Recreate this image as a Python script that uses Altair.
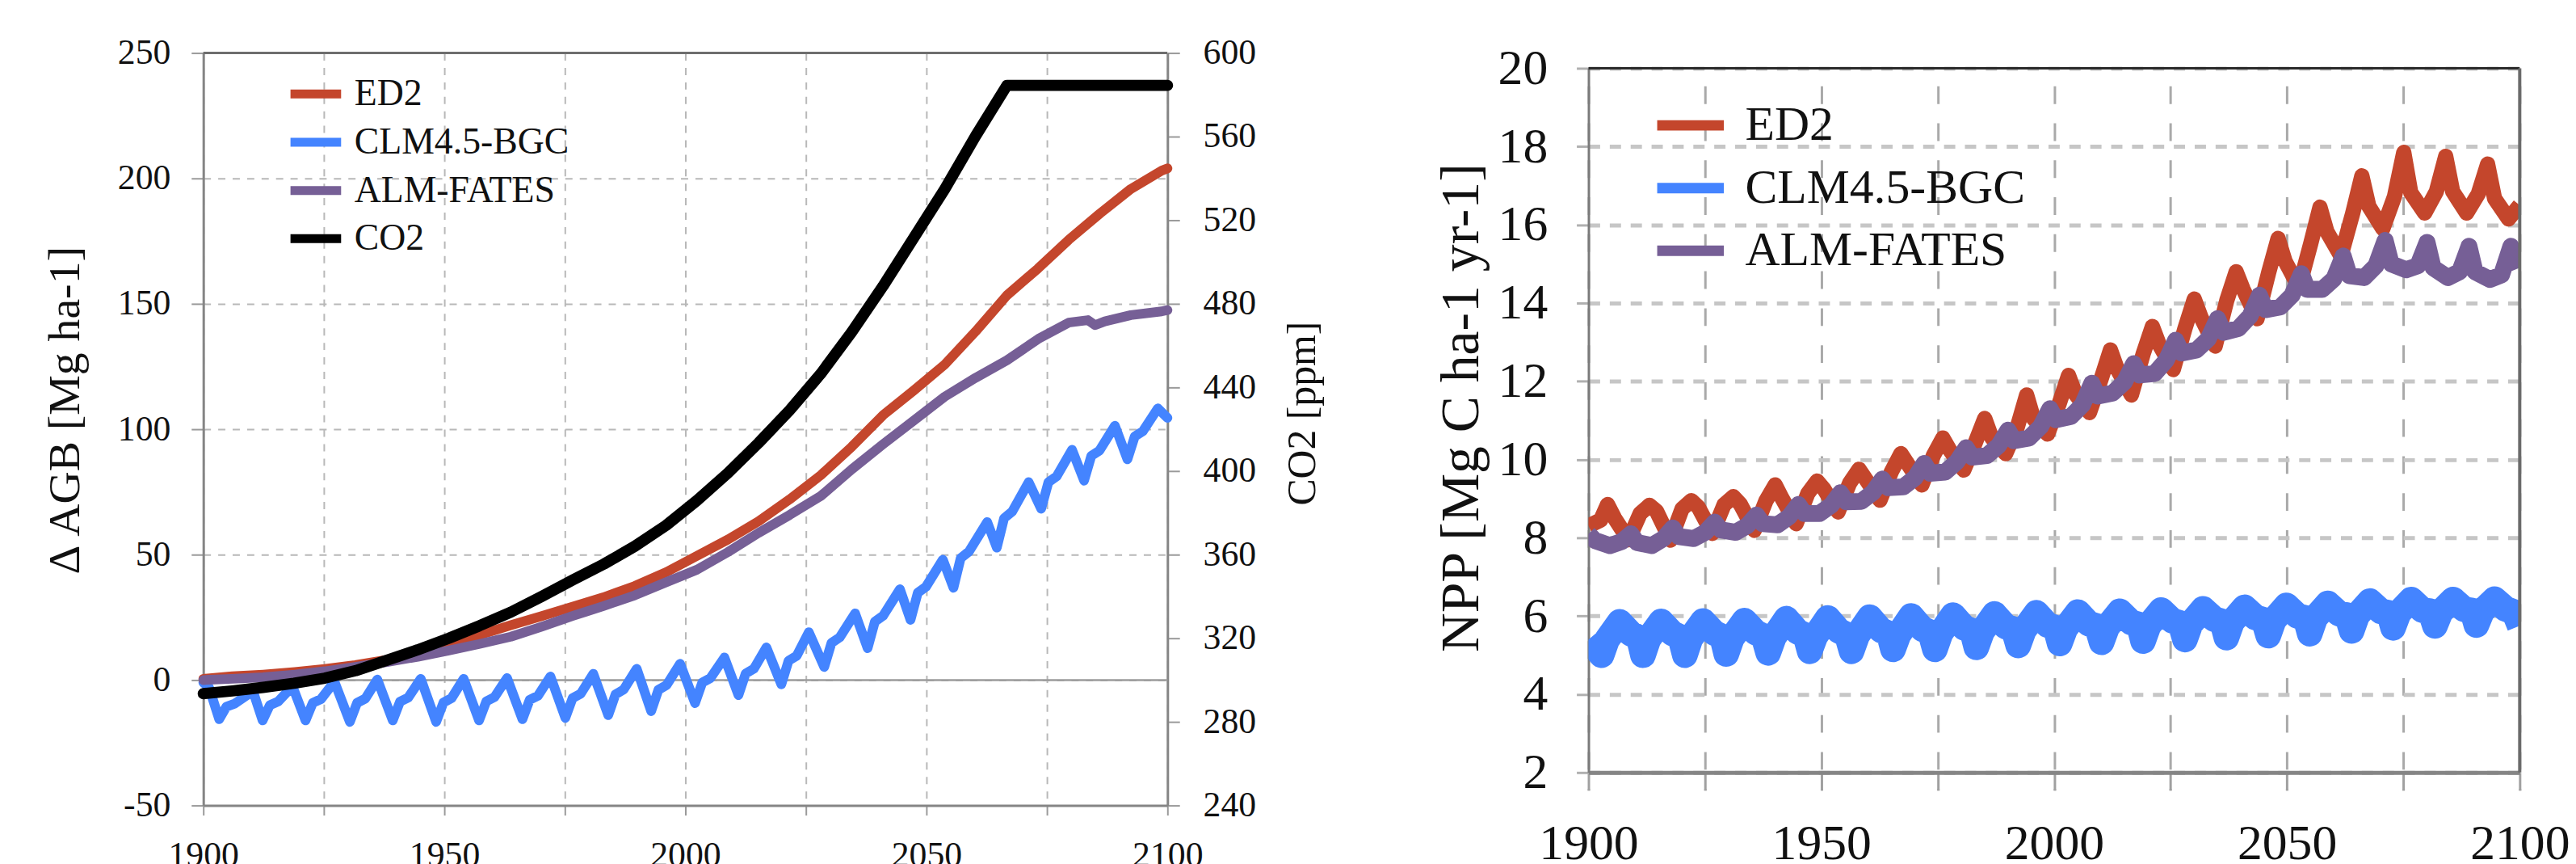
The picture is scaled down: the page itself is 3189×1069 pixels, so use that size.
import altair as alt
import pandas as pd

FONT = "Liberation Serif"

# ---------------- series names / colours ----------------
left_series = ["ED2", "CLM4.5-BGC", "ALM-FATES", "CO2"]
left_colors = ["#C4462C", "#4484FF", "#765F96", "#000000"]
right_series = ["ED2", "CLM4.5-BGC", "ALM-FATES"]
right_colors = ["#C4462C", "#4484FF", "#765F96"]

# ---------------- left panel: delta AGB (Mg ha-1) ----------------
ed2_agb_year = [1900, 1906, 1912.4, 1919, 1925.2, 1931.5, 1938.1, 1944.5, 1950.9, 1957.3,
                1963.8, 1970.2, 1976.7, 1983, 1989.5, 1996, 2002.4, 2008.8, 2015.2, 2021.6,
                2028.1, 2034.5, 2041, 2047.4, 2053.8, 2060.2, 2066.7, 2073.1, 2079.5, 2086,
                2092.4, 2098.8, 2100]
ed2_agb_val = [0.5, 1.5, 2.2, 3.2, 4.4, 6.0, 8.1, 11.0, 14.0, 18.0,
               21.9, 25.5, 29.3, 33.0, 37.5, 43.0, 49.5, 56.0, 63.3, 72.0,
               81.7, 93.0, 105.6, 115.5, 125.8, 139.0, 153.4, 164.0, 175.5, 186.0,
               195.8, 203.1, 204.0]

alm_agb_year = [1900, 1906, 1912.4, 1919, 1925.2, 1931.5, 1938.1, 1944.5, 1950.9, 1957.3,
                1963.8, 1970.2, 1976.7, 1983, 1989.5, 1996, 2002.4, 2008.8, 2015.2, 2021.6,
                2028.1, 2034.5, 2041, 2047.4, 2053.8, 2060.2, 2066.7, 2073.2, 2079.5, 2083.5,
                2085, 2087, 2092.4, 2098.8, 2100]
alm_agb_val = [0.0, 0.5, 1.1, 2.2, 3.5, 5.2, 7.2, 9.3, 11.8, 14.4,
               17.3, 21.3, 25.6, 29.5, 33.8, 39.0, 44.0, 51.0, 58.7, 65.8,
               73.4, 84.0, 94.0, 103.5, 113.0, 120.5, 127.5, 136.0, 142.5, 143.5,
               141.5, 143.0, 145.5, 147.0, 147.5]

clm_agb_year = [1900, 1901.2, 1903.3, 1904.8, 1906.5, 1910.3, 1912.3, 1913.8, 1915.5, 1918.5,
                1921.2, 1922.7, 1924.4, 1927.2, 1930.4, 1931.9, 1933.6, 1936.1, 1939.3, 1940.8,
                1942.5, 1945.1, 1948.3, 1949.8, 1951.5, 1954.0, 1957.2, 1958.7, 1960.4, 1963.0,
                1966.2, 1967.7, 1969.4, 1972.0, 1975.1, 1976.6, 1978.3, 1980.9, 1984.0, 1985.5,
                1987.2, 1989.9, 1992.9, 1994.4, 1996.1, 1998.9, 2002.0, 2003.5, 2005.2, 2008.1,
                2011.0, 2012.5, 2014.2, 2016.8, 2019.9, 2021.4, 2023.1, 2025.6, 2028.8, 2030.3,
                2032.0, 2035.2, 2037.8, 2039.3, 2041.0, 2044.5, 2046.7, 2048.2, 2049.9, 2053.4,
                2055.6, 2057.1, 2058.8, 2062.6, 2064.6, 2066.1, 2067.8, 2071.2, 2073.8, 2075.3,
                2077.0, 2080.2, 2082.7, 2084.2, 2085.9, 2089.1, 2091.7, 2093.2, 2094.9, 2098.0,
                2100.0]
clm_agb_val = [-1.0, -3.0, -15.6, -10.6, -9.4, -4.4, -16.1, -10.0, -8.6, -2.5,
               -16.1, -9.1, -7.6, -0.6, -16.7, -9.1, -7.4, 0.2, -16.1, -8.6,
               -7.0, 0.5, -16.7, -9.0, -7.2, 0.5, -16.1, -8.5, -6.8, 0.8,
               -15.6, -7.9, -6.3, 1.4, -15.1, -7.2, -5.4, 2.5, -14.0, -5.7,
               -3.8, 4.5, -12.4, -3.9, -2.0, 6.5, -9.2, -1.0, 0.8, 9.0,
               -6.0, 2.6, 4.5, 13.0, -1.7, 7.7, 9.7, 19.1, 5.2, 14.8,
               17.0, 26.6, 12.7, 23.3, 25.6, 36.2, 24.0, 34.8, 37.2, 48.0,
               36.8, 48.6, 51.2, 63.0, 52.8, 64.5, 67.2, 78.9, 68.3, 78.9,
               81.2, 91.8, 79.5, 89.4, 91.5, 101.4, 88.0, 97.1, 99.2, 108.3,
               104.5]

# CO2 (ppm), right-hand axis of the left panel
co2_year = [1900, 1906, 1912.4, 1918.8, 1925.2, 1931.6, 1938.1, 1944.5, 1950.9, 1957.3,
            1963.8, 1970.2, 1976.7, 1983.1, 1989.5, 1996.0, 2002.4, 2008.8, 2015.2, 2021.6,
            2028.1, 2034.5, 2041.0, 2047.4, 2053.8, 2060.2, 2066.7, 2100]
co2_ppm = [293.5, 294.8, 296.5, 298.5, 300.9, 304.5, 309.5, 314.5, 320.0, 326.0,
           332.5, 340.0, 348.0, 355.5, 364.0, 374.0, 385.9, 399.0, 413.5, 429.0,
           446.6, 466.5, 488.5, 511.7, 534.9, 560.3, 584.5, 584.5]

# ---------------- right panel: NPP (Mg C ha-1 yr-1) ----------------
ed2_npp_year = [1900.0, 1902.6, 1904.1, 1905.6, 1908.6, 1911.1, 1913.1, 1914.6, 1917.6, 1920.1,
                1922.1, 1923.6, 1926.6, 1929.1, 1931.1, 1932.6, 1935.6, 1938.1, 1940.1, 1941.6,
                1944.6, 1947.1, 1949.1, 1950.6, 1953.6, 1956.1, 1958.1, 1959.6, 1962.6, 1965.1,
                1967.1, 1968.6, 1971.6, 1974.1, 1976.1, 1977.6, 1980.6, 1983.1, 1985.1, 1986.6,
                1989.6, 1992.1, 1994.1, 1995.6, 1998.6, 2001.1, 2003.1, 2004.6, 2007.6, 2010.1,
                2012.1, 2013.6, 2016.6, 2019.1, 2021.1, 2022.6, 2025.6, 2028.1, 2030.1, 2031.6,
                2034.6, 2037.1, 2039.1, 2040.6, 2043.6, 2046.1, 2048.1, 2049.6, 2052.6, 2055.1,
                2057.1, 2058.6, 2061.6, 2064.1, 2066.1, 2067.6, 2070.6, 2073.1, 2075.1, 2076.6,
                2079.6, 2082.1, 2084.1, 2085.6, 2088.6, 2091.1, 2093.1, 2094.6, 2097.6, 2100.0]
ed2_npp_val = [8.30, 8.45, 8.85, 8.50, 7.95, 8.62, 8.83, 8.68, 7.94, 8.74,
               8.95, 8.78, 8.11, 8.84, 9.05, 8.86, 8.19, 8.94, 9.35, 9.00,
               8.36, 9.13, 9.45, 9.24, 8.66, 9.40, 9.75, 9.49, 8.96, 9.70,
               10.15, 9.88, 9.35, 10.11, 10.55, 10.24, 9.73, 10.44, 11.05, 10.56,
               10.15, 10.83, 11.65, 11.04, 10.65, 11.43, 12.15, 11.67, 11.20, 12.06,
               12.80, 12.30, 11.65, 12.69, 13.40, 12.93, 12.30, 13.35, 14.10, 13.62,
               12.90, 14.07, 14.80, 14.35, 13.60, 14.79, 15.65, 15.07, 14.40, 15.51,
               16.45, 15.82, 15.20, 16.28, 17.25, 16.47, 15.90, 16.72, 17.85, 16.82,
               16.30, 16.85, 17.75, 16.85, 16.30, 16.79, 17.55, 16.67, 16.15, 16.50]

alm_npp_year = [1900.0, 1901.4, 1904.6, 1907.1, 1909.1, 1910.4, 1913.6, 1916.1, 1918.1, 1919.4,
                1922.6, 1925.1, 1927.1, 1928.4, 1931.6, 1934.1, 1936.1, 1937.4, 1940.6, 1943.1,
                1945.1, 1946.4, 1949.6, 1952.1, 1954.1, 1955.4, 1958.6, 1961.1, 1963.1, 1964.4,
                1967.6, 1970.1, 1972.1, 1973.4, 1976.6, 1979.1, 1981.1, 1982.4, 1985.6, 1988.1,
                1990.1, 1991.4, 1994.6, 1997.1, 1999.1, 2000.4, 2003.6, 2006.1, 2008.1, 2009.4,
                2012.6, 2015.1, 2017.1, 2018.4, 2021.6, 2024.1, 2026.1, 2027.4, 2030.6, 2033.1,
                2035.1, 2036.4, 2039.6, 2042.1, 2044.1, 2045.4, 2048.6, 2051.1, 2053.1, 2054.4,
                2057.6, 2060.1, 2062.1, 2063.4, 2066.6, 2069.1, 2071.1, 2072.4, 2075.6, 2078.1,
                2080.1, 2081.4, 2084.6, 2087.1, 2089.1, 2090.4, 2093.6, 2096.1, 2098.1, 2100.0]
alm_npp_val = [8.10, 7.93, 7.80, 7.90, 8.10, 7.88, 7.80, 7.98, 8.25, 8.03,
               7.98, 8.14, 8.40, 8.20, 8.14, 8.31, 8.58, 8.36, 8.33, 8.54,
               8.85, 8.62, 8.62, 8.83, 9.15, 8.92, 8.93, 9.16, 9.50, 9.28,
               9.30, 9.53, 9.90, 9.65, 9.68, 9.94, 10.30, 10.06, 10.10, 10.36,
               10.75, 10.48, 10.55, 10.84, 11.30, 11.02, 11.10, 11.40, 11.95, 11.62,
               11.70, 11.98, 12.45, 12.16, 12.20, 12.54, 13.05, 12.72, 12.80, 13.08,
               13.60, 13.25, 13.35, 13.67, 14.20, 13.83, 13.90, 14.20, 14.75, 14.35,
               14.35, 14.62, 15.20, 14.70, 14.65, 14.95, 15.60, 15.00, 14.85, 14.95,
               15.55, 14.90, 14.65, 14.80, 15.45, 14.80, 14.60, 14.72, 15.45, 14.90]

clm_npp_year = [1900.0, 1902.8, 1904.0, 1906.7, 1909.1, 1910.8, 1911.7, 1912.9, 1915.6, 1918.0,
                1919.7, 1920.7, 1921.9, 1924.6, 1927.0, 1928.7, 1929.6, 1930.8, 1933.5, 1935.9,
                1937.6, 1938.6, 1939.8, 1942.5, 1944.9, 1946.6, 1947.5, 1948.7, 1951.4, 1953.8,
                1955.5, 1956.5, 1957.7, 1960.4, 1962.8, 1964.5, 1965.4, 1966.6, 1969.3, 1971.7,
                1973.4, 1974.4, 1975.6, 1978.3, 1980.7, 1982.4, 1983.3, 1984.5, 1987.2, 1989.6,
                1991.3, 1992.3, 1993.5, 1996.2, 1998.6, 2000.3, 2001.2, 2002.4, 2005.1, 2007.5,
                2009.2, 2010.2, 2011.4, 2014.1, 2016.5, 2018.2, 2019.1, 2020.3, 2023.0, 2025.4,
                2027.1, 2028.1, 2029.3, 2032.0, 2034.4, 2036.1, 2037.0, 2038.2, 2040.9, 2043.3,
                2045.0, 2046.0, 2047.2, 2049.9, 2052.3, 2054.0, 2054.9, 2056.1, 2058.8, 2061.2,
                2062.9, 2063.9, 2065.1, 2067.8, 2070.2, 2071.9, 2072.8, 2074.0, 2076.7, 2079.1,
                2080.8, 2081.8, 2083.0, 2085.7, 2088.1, 2089.8, 2090.7, 2091.9, 2094.6, 2097.0,
                2098.8, 2100.0]
clm_npp_val = [5.40, 5.00, 5.40, 5.85, 5.55, 5.45, 5.00, 5.42, 5.86, 5.56,
               5.46, 5.00, 5.43, 5.87, 5.57, 5.47, 5.03, 5.44, 5.88, 5.58,
               5.48, 5.06, 5.46, 5.93, 5.60, 5.50, 5.10, 5.48, 5.95, 5.62,
               5.52, 5.10, 5.50, 5.97, 5.64, 5.55, 5.15, 5.53, 6.00, 5.67,
               5.58, 5.15, 5.56, 6.02, 5.70, 5.62, 5.20, 5.60, 6.05, 5.73,
               5.66, 5.25, 5.64, 6.08, 5.77, 5.70, 5.30, 5.68, 6.10, 5.80,
               5.74, 5.33, 5.72, 6.12, 5.84, 5.78, 5.36, 5.76, 6.15, 5.88,
               5.82, 5.40, 5.80, 6.18, 5.92, 5.86, 5.45, 5.85, 6.22, 5.96,
               5.90, 5.50, 5.90, 6.27, 6.00, 5.95, 5.55, 5.96, 6.32, 6.06,
               6.02, 5.62, 6.02, 6.38, 6.12, 6.08, 5.70, 6.08, 6.42, 6.15,
               6.12, 5.75, 6.10, 6.42, 6.17, 6.14, 5.77, 6.12, 6.43, 6.18,
               6.10, 5.75]

# axis tick values / labels
year_ticks = [1900, 1925, 1950, 1975, 2000, 2025, 2050, 2075, 2100]
agb_ticks = [-50, 0, 50, 100, 150, 200, 250]
co2_ticks = [240, 280, 320, 360, 400, 440, 480, 520, 560, 600]
npp_ticks = [2, 4, 6, 8, 10, 12, 14, 16, 18, 20]

# ---------------- tables ----------------
agb = pd.concat([
    pd.DataFrame({"year": ed2_agb_year, "value": ed2_agb_val, "series": "ED2"}),
    pd.DataFrame({"year": clm_agb_year, "value": clm_agb_val, "series": "CLM4.5-BGC"}),
    pd.DataFrame({"year": alm_agb_year, "value": alm_agb_val, "series": "ALM-FATES"}),
], ignore_index=True)
co2 = pd.DataFrame({"year": co2_year, "co2": co2_ppm, "series": "CO2"})
npp = pd.concat([
    pd.DataFrame({"year": ed2_npp_year, "value": ed2_npp_val, "series": "ED2"}),
    pd.DataFrame({"year": clm_npp_year, "value": clm_npp_val, "series": "CLM4.5-BGC"}),
    pd.DataFrame({"year": alm_npp_year, "value": alm_npp_val, "series": "ALM-FATES"}),
], ignore_index=True)

LABEL_EXPR_50 = "datum.value % 50 === 0 ? '' + datum.value : ''"
TXT = "#111111"

# ---------------- left panel ----------------
x_left = alt.X(
    "year:Q",
    scale=alt.Scale(domain=[1900, 2100], nice=False, zero=False),
    axis=alt.Axis(values=year_ticks, labelExpr=LABEL_EXPR_50, title=None,
                  grid=True, gridColor="#b8b8b8", gridDash=[9, 9], gridWidth=2,
                  domainColor="#858585", domainWidth=3, tickColor="#9a9a9a",
                  tickSize=12, tickWidth=2, labelFont=FONT, labelColor=TXT,
                  labelFontSize=44, labelPadding=28,
                  labelFlush=False, labelOverlap=False),
)
y_agb = alt.Y(
    "value:Q",
    scale=alt.Scale(domain=[-50, 250], nice=False, zero=False),
    axis=alt.Axis(values=agb_ticks, labelExpr="'' + datum.value", title="Δ AGB [Mg ha-1]",
                  grid=True, gridColor="#b8b8b8", gridDash=[9, 9], gridWidth=2,
                  domainColor="#858585", domainWidth=3, tickColor="#9a9a9a",
                  tickSize=15, tickWidth=2, labelFont=FONT, labelColor=TXT,
                  labelFontSize=44, labelPadding=26,
                  titleFont=FONT, titleColor=TXT, titleFontWeight="normal",
                  titleFontSize=56, titleAngle=270, titleX=-172, titleY=444,
                  titleAlign="center", titleBaseline="middle", labelOverlap=False),
)
y_co2 = alt.Y(
    "co2:Q",
    scale=alt.Scale(domain=[240, 600], nice=False, zero=False),
    axis=alt.Axis(orient="right", values=co2_ticks, title="CO2 [ppm]", grid=False,
                  domainColor="#858585", domainWidth=3, tickColor="#9a9a9a",
                  tickSize=15, tickWidth=2, labelFont=FONT, labelColor=TXT,
                  labelFontSize=44, labelPadding=29,
                  titleFont=FONT, titleColor=TXT, titleFontWeight="normal",
                  titleFontSize=50, titleAngle=270, titleX=168, titleY=448,
                  titleAlign="center", titleBaseline="middle", labelOverlap=False),
)
left_color = alt.Color(
    "series:N",
    scale=alt.Scale(domain=left_series, range=left_colors),
    legend=alt.Legend(title=None, orient="none", legendX=103, legendY=14, direction="vertical",
                      symbolType="stroke", symbolStrokeWidth=11, symbolSize=3969,
                      labelFont=FONT, labelColor=TXT, labelLimit=1000,
                      labelFontSize=46, labelOffset=11, rowPadding=-19, padding=0),
)


def agb_line(name):
    return (alt.Chart(agb)
            .transform_filter(alt.datum.series == name)
            .mark_line(strokeWidth=12, strokeCap="round", strokeJoin="round")
            .encode(x=x_left, y=y_agb, color=left_color))


zero_rule = (alt.Chart(pd.DataFrame({"value": [0]}))
             .mark_rule(color="#9c9c9c", strokeWidth=2.5).encode(y=y_agb))
top_rule_left = (alt.Chart(pd.DataFrame({"value": [250]}))
                 .mark_rule(color="#6e6e6e", strokeWidth=3).encode(y=y_agb))

agb_layers = alt.layer(zero_rule, top_rule_left, agb_line("CLM4.5-BGC"),
                       agb_line("ED2"), agb_line("ALM-FATES"))
co2_line = (alt.Chart(co2)
            .mark_line(strokeWidth=14, strokeCap="round", strokeJoin="round")
            .encode(x=x_left, y=y_co2, color=left_color))

left = (alt.layer(agb_layers, co2_line)
        .resolve_scale(y="independent")
        .properties(width=1200, height=936))

# ---------------- right panel ----------------
x_right = alt.X(
    "year:Q",
    scale=alt.Scale(domain=[1900, 2100], nice=False, zero=False),
    axis=alt.Axis(values=year_ticks, labelExpr=LABEL_EXPR_50, title=None, offset=-41,
                  grid=True, gridColor="#a9a9a9", gridDash=[22, 24], gridWidth=3,
                  domainColor="#858585", domainWidth=5, tickColor="#a0a0a0",
                  tickSize=22, tickWidth=3, labelFont=FONT, labelColor=TXT,
                  labelFontSize=62, labelPadding=36,
                  labelFlush=False, labelOverlap=False),
)
y_npp = alt.Y(
    "value:Q",
    scale=alt.Scale(domain=[2, 20], range=[895, 19], nice=False, zero=False),
    axis=alt.Axis(values=npp_ticks, title="NPP [Mg C ha-1 yr-1]",
                  grid=True, gridColor="#c6c6c6", gridDash=[14, 12], gridWidth=5,
                  domainColor="#7a7a7a", domainWidth=3, tickColor="#b0b0b0",
                  tickSize=15, tickWidth=3, labelFont=FONT, labelColor=TXT,
                  labelFontSize=62, labelPadding=36,
                  titleFont=FONT, titleColor=TXT, titleFontWeight="normal",
                  titleFontSize=68, titleAngle=270, titleX=-158, titleY=441,
                  titleAlign="center", titleBaseline="middle", labelOverlap=False),
)
right_color = alt.Color(
    "series:N",
    scale=alt.Scale(domain=right_series, range=right_colors),
    legend=alt.Legend(title=None, orient="none", legendX=79, legendY=42, direction="vertical",
                      symbolType="stroke", symbolStrokeWidth=13, symbolSize=6889,
                      labelFont=FONT, labelColor=TXT, labelLimit=1000,
                      labelFontSize=60, labelOffset=20, rowPadding=-31, padding=0),
)


def npp_line(name, width):
    return (alt.Chart(npp)
            .transform_filter(alt.datum.series == name)
            .mark_line(strokeWidth=width, strokeCap="butt", strokeJoin="round", clip=True)
            .encode(x=x_right, y=y_npp, color=right_color))


top_rule_right = (alt.Chart(pd.DataFrame({"value": [20]}))
                  .mark_rule(color="#2a2a2a", strokeWidth=3).encode(y=y_npp))
right_border = (alt.Chart(pd.DataFrame({"year": [2100], "value": [2], "value2": [20]}))
                .mark_rule(color="#6a6a6a", strokeWidth=4)
                .encode(x=x_right, y=y_npp, y2="value2:Q"))

right = (alt.layer(npp_line("CLM4.5-BGC", 32), npp_line("ED2", 19), npp_line("ALM-FATES", 21),
                   top_rule_right, right_border)
         .properties(width=1159, height=936))

chart = (alt.hconcat(left, right, spacing=524, bounds="flush")
         .resolve_scale(color="independent")
         .resolve_legend(color="independent")
         .properties(padding={"left": 45, "top": 33, "right": 0, "bottom": 0})
         .configure(font=FONT, background="white")
         .configure_axis(labelFont=FONT, titleFont=FONT, labelColor=TXT,
                         titleColor=TXT, titleFontWeight="normal")
         .configure_legend(labelFont=FONT, labelColor=TXT)
         .configure_view(strokeWidth=0))

chart.save("out.html", embed_options={"renderer": "svg", "actions": False})
